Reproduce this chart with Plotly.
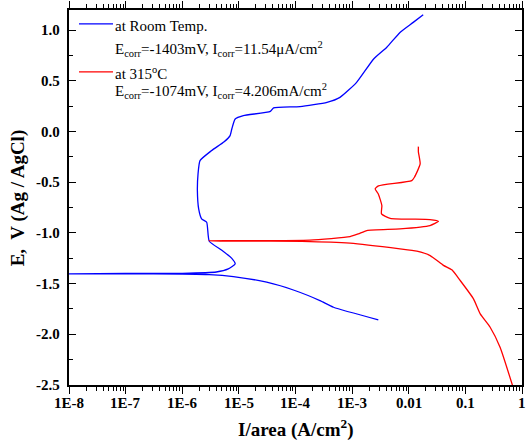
import math
import plotly.graph_objects as go

# Room temperature curve (cathodic branch then anodic branch)
rt_current = [2.9e-3, 4.7e-4, 2.7e-4, 1.0e-4, 3.1e-5, 8.0e-6, 3.0e-6, 1.0e-6, 1.0e-7, 1.0e-8,
              1.0e-7, 1.0e-6, 4.0e-6, 6.5e-6, 8.6e-6, 7.5e-6, 5.0e-6, 3.0e-6, 2.7e-6, 2.2e-6,
              1.95e-6, 1.85e-6, 1.9e-6, 2.06e-6, 3.3e-6, 5.5e-6, 7.0e-6, 7.5e-6, 8.6e-6, 1.2e-5,
              3.6e-5, 4.1e-5, 1.2e-4, 3.6e-4, 6.1e-4, 1.2e-3, 2.4e-3, 4.1e-3, 7.0e-3, 1.2e-2,
              1.8e-2]
rt_potential = [-1.857, -1.733, -1.667, -1.57, -1.486, -1.43, -1.41, -1.405, -1.403, -1.403,
                -1.400, -1.398, -1.385, -1.355, -1.305, -1.25, -1.17, -1.082, -0.894, -0.861,
                -0.763, -0.582, -0.418, -0.286, -0.187, -0.10, -0.039, 0.026, 0.125, 0.158,
                0.20, 0.234, 0.247, 0.289, 0.338, 0.486, 0.717, 0.832, 0.979, 1.078,
                1.154]

# 315 C curve (cathodic branch from bottom, then anodic branch)
ht_current = [0.68, 0.41, 0.274, 0.183, 0.139, 0.081, 0.0577, 0.041, 0.0239, 0.0139, 7.0e-3,
              9.2e-4, 1.3e-4, 1.0e-5, 3.0e-6, 1.0e-5, 1.8e-4, 9.2e-4, 1.29e-3, 1.82e-3, 7.0e-3,
              0.0237, 0.0335, 0.0237, 4.7e-3, 3.3e-3, 3.35e-3, 2.9e-3, 2.55e-3, 2.92e-3,
              0.0113, 0.0126, 0.0159, 0.0148, 0.0148]
ht_potential = [-2.505, -2.127, -1.93, -1.798, -1.65, -1.469, -1.364, -1.32, -1.223, -1.18, -1.157,
                -1.10, -1.082, -1.080, -1.078, -1.076, -1.07, -1.036, -1.009, -0.976, -0.96,
                -0.927, -0.885, -0.868, -0.855, -0.812, -0.73, -0.615, -0.565, -0.535,
                -0.483, -0.45, -0.319, -0.20, -0.148]

x_tickvals = [1e-8, 1e-7, 1e-6, 1e-5, 1e-4, 1e-3, 1e-2, 1e-1, 1]
x_ticktext = ["1E-8", "1E-7", "1E-6", "1E-5", "1E-4", "1E-3", "0.01", "0.1", "1"]
x_minor = [m * 10**e for e in range(-8, 0) for m in range(2, 10)]
y_tickvals = [-2.5, -2.0, -1.5, -1.0, -0.5, 0.0, 0.5, 1.0]
y_ticktext = ["-2.5", "-2.0", "-1.5", "-1.0", "-0.5", "0.0", "0.5", "1.0"]

x_title = "<b>I/area (A/cm<sup>2</sup>)</b>"
y_title = "<b>E,  V (Ag / AgCl)</b>"

legend_lines = [
    ("at Room Temp.", "#0000ff"),
    ("E<sub>corr</sub>=-1403mV, I<sub>corr</sub>=11.54\u03bcA/cm<sup>2</sup>", None),
    ("at 315<sup>o</sup>C", "#ff0000"),
    ("E<sub>corr</sub>=-1074mV, I<sub>corr</sub>=4.206mA/cm<sup>2</sup>", None),
]

font = "Liberation Serif, Times New Roman, DejaVu Serif, serif"

fig = go.Figure()
fig.add_trace(go.Scatter(x=rt_current, y=rt_potential, mode="lines",
                         line=dict(color="#0000ff", width=1.3, shape="spline", smoothing=0.5),
                         showlegend=False))
fig.add_trace(go.Scatter(x=ht_current, y=ht_potential, mode="lines",
                         line=dict(color="#ff0000", width=1.3, shape="spline", smoothing=0.5),
                         showlegend=False))

fig.update_layout(
    width=531, height=441,
    margin=dict(l=69, r=9, t=10, b=56, autoexpand=False),
    plot_bgcolor="white", paper_bgcolor="white",
    font=dict(family=font, color="black", size=15),
    xaxis=dict(type="log", range=[-8, 0], showgrid=False, zeroline=False, automargin=False,
               tickmode="array", tickvals=x_tickvals, showticklabels=False,
               showline=True, mirror="allticks", linecolor="black", linewidth=2,
               tickcolor="black", tickwidth=1.3, ticks="outside", ticklen=7,
               minor=dict(tickvals=x_minor, ticks="outside", ticklen=4, tickcolor="black")),
    yaxis=dict(range=[-2.5, 1.2], tickmode="array", tickvals=y_tickvals, showticklabels=False,
               automargin=False, showgrid=False, zeroline=False, ticks="inside", ticklen=7,
               showline=True, mirror="allticks", linecolor="black", linewidth=2,
               tickcolor="black", tickwidth=1.3,
               minor=dict(dtick=0.25, tick0=0, ticks="inside", ticklen=4, tickcolor="black")),
)

# tick labels as text placed at the tick values
for v, t in zip(x_tickvals, x_ticktext):
    fig.add_annotation(x=math.log10(v), xref="x", y=-0.048, yref="paper", text="<b>%s</b>" % t,
                       showarrow=False, xanchor="center", yanchor="middle",
                       font=dict(size=15, family=font, color="black"))
for v, t in zip(y_tickvals, y_ticktext):
    fig.add_annotation(x=-0.0155, xref="paper", y=v, yref="y", text="<b>%s</b>" % t,
                       showarrow=False, xanchor="right", yanchor="middle",
                       font=dict(size=15, family=font, color="black"))

# axis titles
fig.add_annotation(x=0.5, xref="paper", y=-0.115, yref="paper", text=x_title, showarrow=False,
                   xanchor="center", yanchor="middle", font=dict(size=19, family=font))
fig.add_annotation(x=-0.113, xref="paper", y=0.5, yref="paper", text=y_title, showarrow=False,
                   textangle=-90, xanchor="center", yanchor="middle",
                   font=dict(size=19, family=font))

ys = [0.958, 0.897, 0.833, 0.785]
line_ys = [0.963, None, 0.835, None]
for (txt, col), yy, ly in zip(legend_lines, ys, line_ys):
    fig.add_annotation(xref="paper", yref="paper", x=(113 - 69) / 453, y=yy,
                       xanchor="left", yanchor="middle", text=txt, showarrow=False,
                       font=dict(size=15, family=font, color="black"))
    if col:
        fig.add_shape(type="line", xref="paper", yref="paper",
                      x0=(79 - 69) / 453, x1=(113 - 69) / 453, y0=ly, y1=ly,
                      line=dict(color=col, width=1.3))

fig.write_html("out.html")
